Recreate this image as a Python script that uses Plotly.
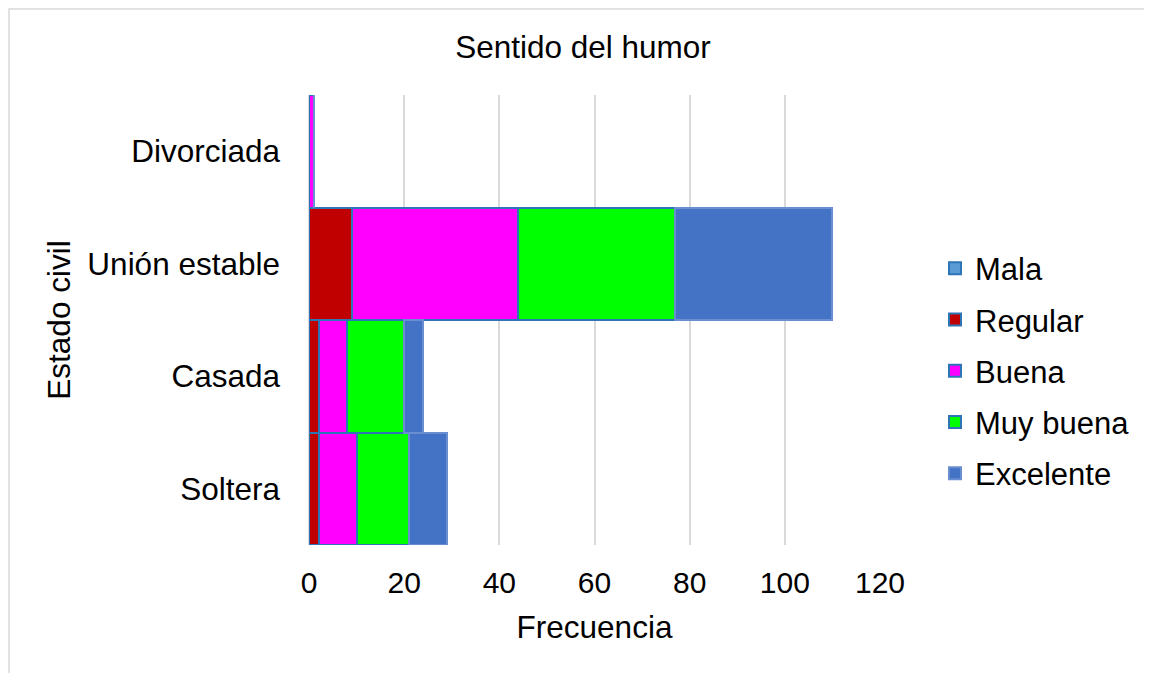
import plotly.graph_objects as go

# categorias (de abajo hacia arriba, como las pinta plotly)
estado_civil = ["Soltera", "Casada", "Unión estable", "Divorciada"]

mala = [0, 0, 0, 0]
regular = [2, 2, 9, 0]
buena = [8, 6, 35, 1]
muy_buena = [11, 12, 33, 0]
excelente = [8, 4, 33, 0]

x_ticks = [0, 20, 40, 60, 80, 100, 120]

series = [
    ("Mala", mala, "#5B9BD5", "#2E75B6"),
    ("Regular", regular, "#C00000", "#2E75B6"),
    ("Buena", buena, "#FF00FF", "#2E75B6"),
    ("Muy buena", muy_buena, "#00FF00", "#2E75B6"),
    ("Excelente", excelente, "#4472C4", "#6A8FD0"),
]

# la pagina deja 8px de margen, se compensa aqui
W, H = 1144, 665
L, R, T, B = 301, 872, 87, 537

fig = go.Figure()
for nombre, vals, color, borde in series:
    fig.add_trace(go.Bar(
        y=estado_civil, x=vals, name=nombre, orientation="h",
        legendgroup=nombre,
        marker=dict(color=color, line=dict(color=borde, width=2)),
    ))

fnt = dict(family="Liberation Sans, Arial, sans-serif", size=30, color="#000000")

fig.update_layout(
    width=W, height=H,
    margin=dict(l=L, r=W - R, t=T, b=H - B, autoexpand=False),
    barmode="stack", bargap=0,
    plot_bgcolor="white", paper_bgcolor="white",
    font=fnt,
    title=dict(text="Sentido del humor", x=575 / W, xanchor="center",
               y=1 - 39 / H, yanchor="middle", font=dict(size=31.5)),
    xaxis=dict(range=[0, 120], tickvals=x_ticks, showgrid=True,
               gridcolor="#D9D9D9", gridwidth=1.5, zeroline=True,
               zerolinecolor="#D9D9D9", zerolinewidth=1.5, showline=False,
               ticks="", ticklabelstandoff=17,
               title=dict(text="Frecuencia", standoff=17, font=dict(size=31.5)),
               tickfont=dict(size=30)),
    yaxis=dict(categoryorder="array", categoryarray=estado_civil,
               showgrid=False, zeroline=False, showline=False, ticks="",
               ticklabelstandoff=28, tickfont=dict(size=31.5),
               title=dict(text="Estado civil", standoff=7, font=dict(size=31.5))),
    legend=dict(x=(927 - L) / (R - L), y=(B - 363) / (B - T),
                xanchor="left", yanchor="middle", traceorder="grouped",
                font=dict(size=31), bgcolor="rgba(0,0,0,0)",
                tracegroupgap=8, itemwidth=30),
    showlegend=True,
)

# marco del grafico
fig.add_shape(type="rect", xref="paper", yref="paper",
              x0=(1 - L) / (R - L), x1=(1170 - L) / (R - L),
              y0=(B - 690) / (B - T), y1=(B - 1) / (B - T),
              line=dict(color="#D9D9D9", width=1.5), fillcolor="rgba(0,0,0,0)",
              layer="below")

fig.write_html("out.html")
